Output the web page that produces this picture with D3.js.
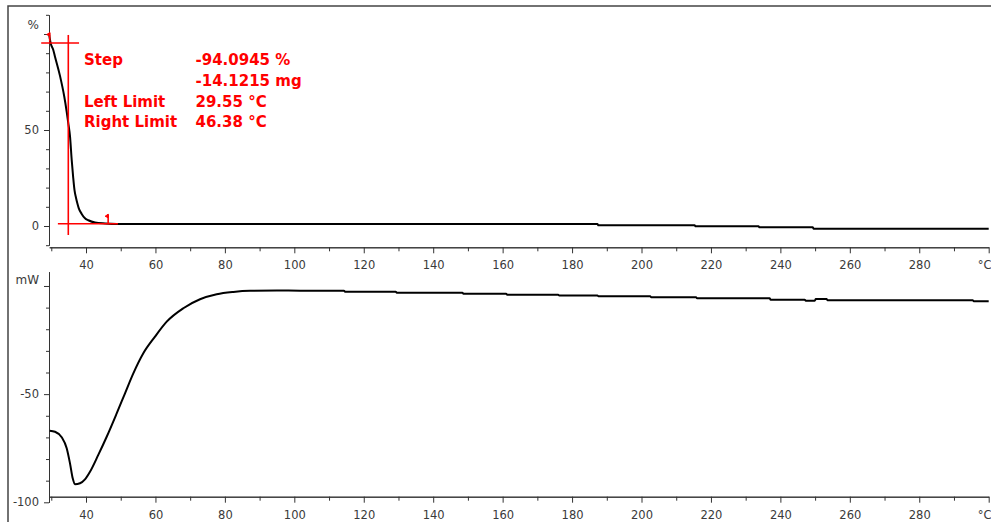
<!DOCTYPE html>
<html>
<head>
<meta charset="utf-8">
<script src="https://cdn.jsdelivr.net/npm/d3@7"></script>
<style>
  html, body { margin: 0; padding: 0; background: #fff; }
  svg { display: block; }
  .tick text { font-family: "DejaVu Sans", sans-serif; font-size: 11.5px; fill: #3a3a3a; }
  .unit { font-family: "DejaVu Sans", sans-serif; font-size: 12px; fill: #3a3a3a; }
  .eval { font-family: "DejaVu Sans", sans-serif; font-weight: bold; font-size: 15px; fill: #ff0000; }
</style>
</head>
<body>
<svg id="chart" width="991" height="522"></svg>
<script>
// ---- TGA curve (weight, %) ----
const tgTemp = [29.4, 29.83, 30.58, 31.07, 32.51, 33.75, 34.44, 34.9, 35.39, 35.88, 36.3, 36.7,
  37.1, 37.5, 37.9, 38.76, 39.71, 40.66, 42.59, 45.5, 48.84, 187.3, 187.6, 215.3, 215.6, 233.7, 234.0,
  249.3, 249.6, 300];
const tgValue = [99.5, 95.2, 91.7, 88.2, 78.2, 67.3, 59.5, 53.5, 46.8, 34.4, 25.5, 18.5,
  14.8, 11.8, 9.3, 6.3, 4.0, 3.0, 1.8, 1.3, 1.04, 1.04, 0.36, 0.36, -0.16, -0.16, -0.68,
  -0.68, -1.40, -1.40];

// ---- DSC curve (heat flow, mW) ----
const dscTemp = [29.55, 31.07, 33.0, 34.44, 35.39, 36.17, 36.83, 38.27, 39.71, 41.15, 43.54, 45.96,
  48.84, 51.24, 53.63, 56.51, 59.88, 63.25, 68.03, 72.84, 77.65, 82.44, 87.25, 95, 101.7,
  114.3, 114.6, 129.2, 129.5, 148.4, 148.7, 161.0, 161.3, 176.0, 176.3, 187.3, 187.6,
  202.5, 202.8, 215.7, 216.0, 236.9, 237.2, 247.0, 247.3, 249.9, 250.2, 253.3, 253.6,
  295.4, 295.7, 300];
const dscValue = [-66.9, -67.4, -69.9, -75.0, -82.0, -88.9, -91.7, -91.2, -89.4, -85.9, -78.1, -69.7,
  -58.9, -49.6, -40.4, -31.1, -23.4, -16.5, -10.3, -6.15, -3.84, -2.77, -2.25, -2.12, -2.17,
  -2.17, -2.64, -2.64, -3.10, -3.10, -3.56, -3.56, -4.02, -4.02, -4.39, -4.39, -4.76,
  -4.76, -5.22, -5.22, -5.69, -5.69, -6.33, -6.33, -6.80, -6.80, -6.01, -6.01, -6.61,
  -6.61, -7.07, -7.07];

// ---- step evaluation ----
const stepPercent = -94.0945;
const stepMass = -14.1215;
const leftLimit = 29.55;
const rightLimit = 46.38;
const stepUpper = 95.3;              // left baseline level, %
const stepMidTemp = 34.9;            // inflection temperature
const evalLabels = ["Step", "", "Left Limit", "Right Limit"];
const evalValues = [stepPercent.toFixed(4) + " %", stepMass.toFixed(4) + " mg",
  leftLimit.toFixed(2) + " °C", rightLimit.toFixed(2) + " °C"];

// ---- axis ticks ----
const xMajor = [40, 60, 80, 100, 120, 140, 160, 180, 200, 220, 240, 260, 280, 300];
const xMinor = [30, 50, 70, 90, 110, 130, 150, 170, 190, 210, 230, 250, 270, 290];
const tgMajor = [0, 50, 100];
const tgMinor = [-10, 10, 20, 30, 40, 60, 70, 80, 90, 110];
const dscMajor = [-100, -50, 0];
const dscMinor = [-90, -80, -70, -60, -40, -30, -20, -10];

const svg = d3.select("#chart");
const axisColor = "#333";

const x = d3.scaleLinear().domain([29.4, 300]).range([49.2, 988.7]);
const yTg = d3.scaleLinear().domain([-10, 110]).range([245.2, 14.8]);
const yDsc = d3.scaleLinear().domain([-100, 6.6]).range([502.3, 271.7]);

// outer frame (left and top edges)
svg.append("path").attr("d", "M8,522V6H991").attr("fill", "none")
  .attr("stroke", "#444").attr("stroke-width", 1.5);

function xAxis(yPos) {
  const gMin = svg.append("g").attr("transform", `translate(0,${yPos})`)
    .call(d3.axisBottom(x).tickValues(xMinor).tickSize(4).tickSizeOuter(0).tickFormat(""));
  const gMaj = svg.append("g").attr("transform", `translate(0,${yPos})`)
    .call(d3.axisBottom(x).tickValues(xMajor).tickSize(6).tickSizeOuter(0)
      .tickFormat(d => d === 300 ? "°C" : d));
  gMaj.selectAll(".tick text").attr("y", 14)
    .filter(d => d === 300).attr("text-anchor", "end").attr("dx", "0.2em");
  [gMin, gMaj].forEach(g => {
    g.selectAll("path, line").attr("stroke", axisColor);
  });
}

function yAxis(scale, major, minor, unit, unitY) {
  const gMin = svg.append("g").attr("transform", "translate(49,0)")
    .call(d3.axisLeft(scale).tickValues(minor).tickSize(3).tickSizeOuter(0).tickFormat(""));
  const gMaj = svg.append("g").attr("transform", "translate(49,0)")
    .call(d3.axisLeft(scale).tickValues(major).tickSize(5).tickSizeOuter(0)
      .tickFormat(d => (d === major[major.length - 1]) ? "" : d));
  gMaj.selectAll(".tick text").attr("x", -10);
  [gMin, gMaj].forEach(g => g.selectAll("path, line").attr("stroke", axisColor));
  svg.append("text").attr("class", "unit").attr("x", 39).attr("y", unitY)
    .attr("text-anchor", "end").attr("dy", "0.32em").text(unit);
}

// panels
xAxis(247.3);
yAxis(yTg, tgMajor, tgMinor, "%", yTg(100) - 9);
xAxis(496.7);
yAxis(yDsc, dscMajor, dscMinor, "mW", yDsc(0) - 5.5);

// curves
const tgData = tgTemp.map((t, i) => [t, tgValue[i]]);
const dscData = dscTemp.map((t, i) => [t, dscValue[i]]);

svg.append("path").datum(tgData)
  .attr("fill", "none").attr("stroke", "#000").attr("stroke-width", 2)
  .attr("d", d3.line().x(d => x(d[0])).y(d => yTg(d[1])).curve(d3.curveMonotoneX));

svg.append("path").datum(dscData)
  .attr("fill", "none").attr("stroke", "#000").attr("stroke-width", 2)
  .attr("d", d3.line().x(d => x(d[0])).y(d => yDsc(d[1])).curve(d3.curveMonotoneX));

// step evaluation graphics
const red = "#ff0000";
const stepLower = stepUpper + stepPercent;
const ev = svg.append("g").attr("stroke", red).attr("stroke-width", 1.6).attr("fill", "none");
ev.append("line").attr("x1", x(27.1)).attr("x2", x(38.0))
  .attr("y1", yTg(stepUpper)).attr("y2", yTg(stepUpper));
ev.append("line").attr("x1", x(31.9)).attr("x2", x(49.2))
  .attr("y1", yTg(stepLower)).attr("y2", yTg(stepLower));
ev.append("line").attr("x1", x(stepMidTemp)).attr("x2", x(stepMidTemp))
  .attr("y1", yTg(99.5)).attr("y2", yTg(-4.7));

// limit markers
function marker(t, v) {
  const px = x(t), py = yTg(v);
  ev.append("path").attr("d", `M${px},${py + 3}V${py - 6}`);
  ev.append("path").attr("d", `M${px},${py - 6}l-3,2l3,1.5z`).attr("fill", red).attr("stroke-width", 1);
}
marker(leftLimit, 97.6);
marker(rightLimit, 3.0);

// evaluation text
const rowsY = [65, 86, 106.5, 127];
evalLabels.forEach((s, i) => {
  if (s) svg.append("text").attr("class", "eval").attr("x", 84).attr("y", rowsY[i]).text(s);
});
evalValues.forEach((s, i) => {
  svg.append("text").attr("class", "eval").attr("x", 195.5).attr("y", rowsY[i]).text(s);
});
</script>
</body>
</html>
